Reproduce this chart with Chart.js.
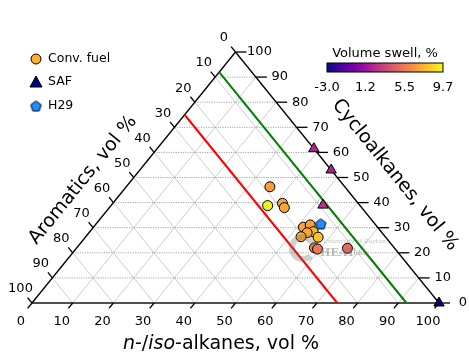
<!DOCTYPE html>
<html>
<head>
<meta charset="utf-8">
<script src="https://cdn.jsdelivr.net/npm/chart.js@4.4.1/dist/chart.umd.min.js"></script>
<style>
  html, body { margin: 0; padding: 0; background: #fff; }
</style>
</head>
<body>
<canvas id="tern" width="469" height="356"></canvas>
<script>
// composition in vol %: n-/iso-alkanes, cycloalkanes, aromatics ; swell in %
const convNIso   = [35.3, 38.5, 41.7, 43.0, 51.6, 52.8, 54.9, 53.6, 52.9, 57.2, 58.4, 59.4, 66.6];
const convCyclo  = [46.3, 38.8, 39.7, 38.0, 30.2, 31.1, 28.4, 28.0, 26.4, 26.2, 22.0, 21.5, 21.8];
const convArom   = [18.4, 22.7, 18.6, 19.0, 18.2, 16.1, 16.7, 18.4, 20.7, 16.6, 19.6, 19.1, 11.6];
const convSwell  = [6.8, 9.5, 7.0, 7.2, 7.0, 6.9, 7.6, 7.2, 7.4, 8.0, 5.7, 5.4, 4.9];

const safNIso  = [38.5, 47.0, 52.0, 100];
const safCyclo = [61.5, 53.0, 39.0, 0];
const safArom  = [0, 0, 9.0, 0];
const safSwell = [1.8, 1.7, 2.3, -3.0];

const h29NIso  = [55.2];
const h29Cyclo = [31.5];
const h29Arom  = [13.3];

const axisTicks  = [0, 10, 20, 30, 40, 50, 60, 70, 80, 90, 100];
const gridLevels = [10, 20, 30, 40, 50, 60, 70, 80, 90];
const aromLimits = [8, 25];            // aromatics spec: min, max
const limitColors = ['#008000', '#ff0000'];
const swellTicks = [-3.0, 1.2, 5.5, 9.7];
const swellMin = -3.0, swellMax = 9.7;

const FONT = '"DejaVu Sans", sans-serif';

// matplotlib plasma
const plasmaStops = ['#0d0887','#41049d','#6a00a8','#8f0da4','#b12a90','#cc4778',
                     '#e16462','#f2844b','#fca636','#fcce25','#f0f921'];
function hex2rgb(h) { return [1,3,5].map(i => parseInt(h.substr(i, 2), 16)); }
function plasma(v) {
  let t = (v - swellMin) / (swellMax - swellMin);
  t = Math.max(0, Math.min(1, t)) * (plasmaStops.length - 1);
  const i = Math.min(Math.floor(t), plasmaStops.length - 2), f = t - i;
  const a = hex2rgb(plasmaStops[i]), b = hex2rgb(plasmaStops[i + 1]);
  return 'rgb(' + a.map((c, k) => Math.round(c + (b[k] - c) * f)).join(',') + ')';
}

// ternary -> cartesian (x along the base, y = cycloalkanes)
function tern(n, c, a) {
  const s = n + c + a;
  return { x: (n + c / 2) / s * 100, y: c / s * 100 };
}

function seg(p, q, color, width, dash, order) {
  return {
    type: 'scatter', data: [p, q], showLine: true,
    borderColor: color, borderWidth: width, borderDash: dash || [],
    pointRadius: 0, order: order, clip: false
  };
}

function pentagon(fill, size) {
  const c = document.createElement('canvas');
  c.width = size; c.height = size;
  const g = c.getContext('2d');
  const r = size / 2 - 1;
  g.beginPath();
  for (let k = 0; k < 5; k++) {
    const ang = -Math.PI / 2 + k * 2 * Math.PI / 5;
    const x = size / 2 + r * Math.cos(ang), y = size / 2 + 0.5 + r * Math.sin(ang);
    k ? g.lineTo(x, y) : g.moveTo(x, y);
  }
  g.closePath();
  g.fillStyle = fill; g.fill();
  g.lineWidth = 1; g.strokeStyle = '#000'; g.stroke();
  return c;
}
const h29Marker = pentagon('#1e90ff', 13);

const datasets = [];

// markers
datasets.push({
  type: 'scatter', label: 'Conv. fuel',
  data: convNIso.map((n, i) => tern(n, convCyclo[i], convArom[i])),
  pointStyle: 'circle', pointRadius: 5,
  pointBackgroundColor: convSwell.map(plasma), backgroundColor: convSwell.map(plasma),
  pointBorderColor: '#000', borderColor: '#000', pointBorderWidth: 1,
  order: 0, clip: false
});
datasets.push({
  type: 'scatter', label: 'SAF',
  data: safNIso.map((n, i) => tern(n, safCyclo[i], safArom[i])),
  pointStyle: 'triangle', pointRadius: 6,
  pointBackgroundColor: safSwell.map(plasma), backgroundColor: safSwell.map(plasma),
  pointBorderColor: '#000', borderColor: '#000', pointBorderWidth: 1,
  order: 0, clip: false
});
datasets.push({
  type: 'scatter', label: 'H29',
  data: h29NIso.map((n, i) => tern(n, h29Cyclo[i], h29Arom[i])),
  pointStyle: h29Marker, pointRadius: 6,
  order: 0, clip: false
});

// aromatics limits
aromLimits.forEach((a, i) => {
  datasets.push(seg(tern(100 - a, 0, a), tern(0, 100 - a, a), limitColors[i], 2, [], 2));
});

// grid: constant cycloalkanes (dotted), constant n-/iso and constant aromatics (thin)
gridLevels.forEach(v => {
  datasets.push(seg(tern(0, v, 100 - v), tern(100 - v, v, 0), '#9a9a9a', 0.9, [1.2, 1.2], 6));
  datasets.push(seg(tern(v, 0, 100 - v), tern(v, 100 - v, 0), '#c0c0c0', 0.8, [], 7));
  datasets.push(seg(tern(100 - v, 0, v), tern(0, 100 - v, v), '#c0c0c0', 0.8, [], 7));
});

// triangle edges
datasets.push(seg(tern(0, 0, 100), tern(0, 100, 0), '#000', 1.3, [], 3));
datasets.push(seg(tern(100, 0, 0), tern(0, 100, 0), '#000', 1.3, [], 3));
datasets.push(seg(tern(0, 0, 100), tern(100, 0, 0), '#505050', 2, [], 3));

const decor = {
  id: 'decor',
  afterDatasetsDraw(chart) {
    // lab logo watermark
    const ctx = chart.ctx;
    ctx.save();
    ctx.strokeStyle = 'rgba(110,110,100,0.33)';
    ctx.lineWidth = 6;
    ctx.beginPath();
    ctx.arc(303, 248, 11, 0.25 * Math.PI, 1.95 * Math.PI);
    ctx.stroke();
    ctx.fillStyle = 'rgba(110,110,100,0.45)';
    ctx.font = '6px "DejaVu Serif", serif';
    ctx.textBaseline = 'middle';
    ctx.fillText('University of Dayton', 323, 241);
    ctx.font = 'bold 11px "DejaVu Serif", serif';
    ctx.fillText('HEAT', 320, 253);
    ctx.font = '8px "DejaVu Serif", serif';
    ctx.fillText('Lab', 353, 253);
    ctx.restore();
  },
  afterDraw(chart) {
    const ctx = chart.ctx, xs = chart.scales.x, ys = chart.scales.y;
    const px = p => [xs.getPixelForValue(p.x), ys.getPixelForValue(p.y)];
    const top = px(tern(0, 100, 0)), bl = px(tern(0, 0, 100)), br = px(tern(100, 0, 0));
    const unit = (a, b) => { const dx = b[0] - a[0], dy = b[1] - a[1], l = Math.hypot(dx, dy); return [dx / l, dy / l]; };
    const dDL = unit(top, bl);   // parallel to left edge, pointing down-left
    const dUL = unit(br, top);   // parallel to right edge, pointing up-left

    ctx.save();
    ctx.strokeStyle = '#000';
    ctx.lineWidth = 1.3;
    ctx.fillStyle = '#000';
    ctx.font = '13px ' + FONT;
    ctx.textAlign = 'center';
    ctx.textBaseline = 'middle';

    axisTicks.forEach(t => {
      // n-/iso-alkanes (bottom)
      let p = px(tern(t, 0, 100 - t));
      ctx.beginPath(); ctx.moveTo(p[0], p[1]); ctx.lineTo(p[0] + dDL[0] * 7, p[1] + dDL[1] * 7); ctx.stroke();
      ctx.fillText(String(t), p[0] - 11, p[1] + 19);
      // cycloalkanes (right)
      p = px(tern(100 - t, t, 0));
      ctx.beginPath(); ctx.moveTo(p[0], p[1]); ctx.lineTo(p[0] + 11, p[1]); ctx.stroke();
      ctx.fillText(String(t), p[0] + 24, p[1]);
      // aromatics (left)
      p = px(tern(0, 100 - t, t));
      ctx.beginPath(); ctx.moveTo(p[0], p[1]); ctx.lineTo(p[0] + dUL[0] * 7, p[1] + dUL[1] * 7); ctx.stroke();
      ctx.fillText(String(t), p[0] - 11.5, p[1] - 14);
    });

    // axis titles
    const ang = Math.atan2(bl[1] - top[1], top[0] - bl[0]);
    ctx.font = '19px ' + FONT;
    ctx.save();
    ctx.translate(83, 180); ctx.rotate(-ang);
    ctx.fillText('Aromatics, vol %', 0, 0);
    ctx.restore();
    ctx.save();
    ctx.translate(395, 175); ctx.rotate(ang);
    ctx.fillText('Cycloalkanes, vol %', 0, 0);
    ctx.restore();

    const parts = [['n', true], ['-/', false], ['iso', true], ['-alkanes, vol %', false]];
    const fontOf = it => (it ? 'italic ' : '') + '19px ' + FONT;
    let w = 0;
    parts.forEach(([s, it]) => { ctx.font = fontOf(it); w += ctx.measureText(s).width; });
    let x = 221 - w / 2;
    ctx.textAlign = 'left';
    parts.forEach(([s, it]) => { ctx.font = fontOf(it); ctx.fillText(s, x, 344); x += ctx.measureText(s).width; });

    // legend
    ctx.font = '12.5px ' + FONT;
    ctx.lineWidth = 1;
    const lx = 36;
    ctx.beginPath(); ctx.arc(lx, 59, 5, 0, 2 * Math.PI);
    ctx.fillStyle = '#ffb02e'; ctx.fill(); ctx.stroke();
    ctx.beginPath(); ctx.moveTo(lx, 76); ctx.lineTo(lx + 6, 87); ctx.lineTo(lx - 6, 87); ctx.closePath();
    ctx.fillStyle = '#000080'; ctx.fill(); ctx.stroke();
    ctx.drawImage(h29Marker, lx - 6.5, 99.5);
    ctx.fillStyle = '#000';
    ctx.fillText('Conv. fuel', 48, 59);
    ctx.fillText('SAF', 48, 82);
    ctx.fillText('H29', 48, 106);

    // colour bar
    ctx.font = '13px ' + FONT;
    const cbL = 327, cbR = 443, cbT = 63, cbB = 72;
    const grad = ctx.createLinearGradient(cbL, 0, cbR, 0);
    plasmaStops.forEach((c, i) => grad.addColorStop(i / (plasmaStops.length - 1), c));
    ctx.fillStyle = grad;
    ctx.fillRect(cbL, cbT, cbR - cbL, cbB - cbT);
    ctx.strokeStyle = '#000'; ctx.lineWidth = 1;
    ctx.strokeRect(cbL, cbT, cbR - cbL, cbB - cbT);
    ctx.fillStyle = '#000';
    ctx.textAlign = 'center';
    ctx.fillText('Volume swell, %', (cbL + cbR) / 2, 54);
    swellTicks.forEach(v => {
      const tx = cbL + (v - swellMin) / (swellMax - swellMin) * (cbR - cbL);
      ctx.fillText(v.toFixed(1), tx, 88);
    });
    ctx.restore();
  }
};

new Chart(document.getElementById('tern'), {
  type: 'scatter',
  data: { datasets: datasets },
  options: {
    responsive: false,
    animation: false,
    devicePixelRatio: 1,
    layout: { padding: { left: 32, right: 30, top: 52, bottom: 53 } },
    scales: {
      x: { type: 'linear', min: 0, max: 100, display: false },
      y: { type: 'linear', min: 0, max: 100, display: false }
    },
    plugins: { legend: { display: false }, tooltip: { enabled: false } }
  },
  plugins: [decor]
});
</script>
</body>
</html>
